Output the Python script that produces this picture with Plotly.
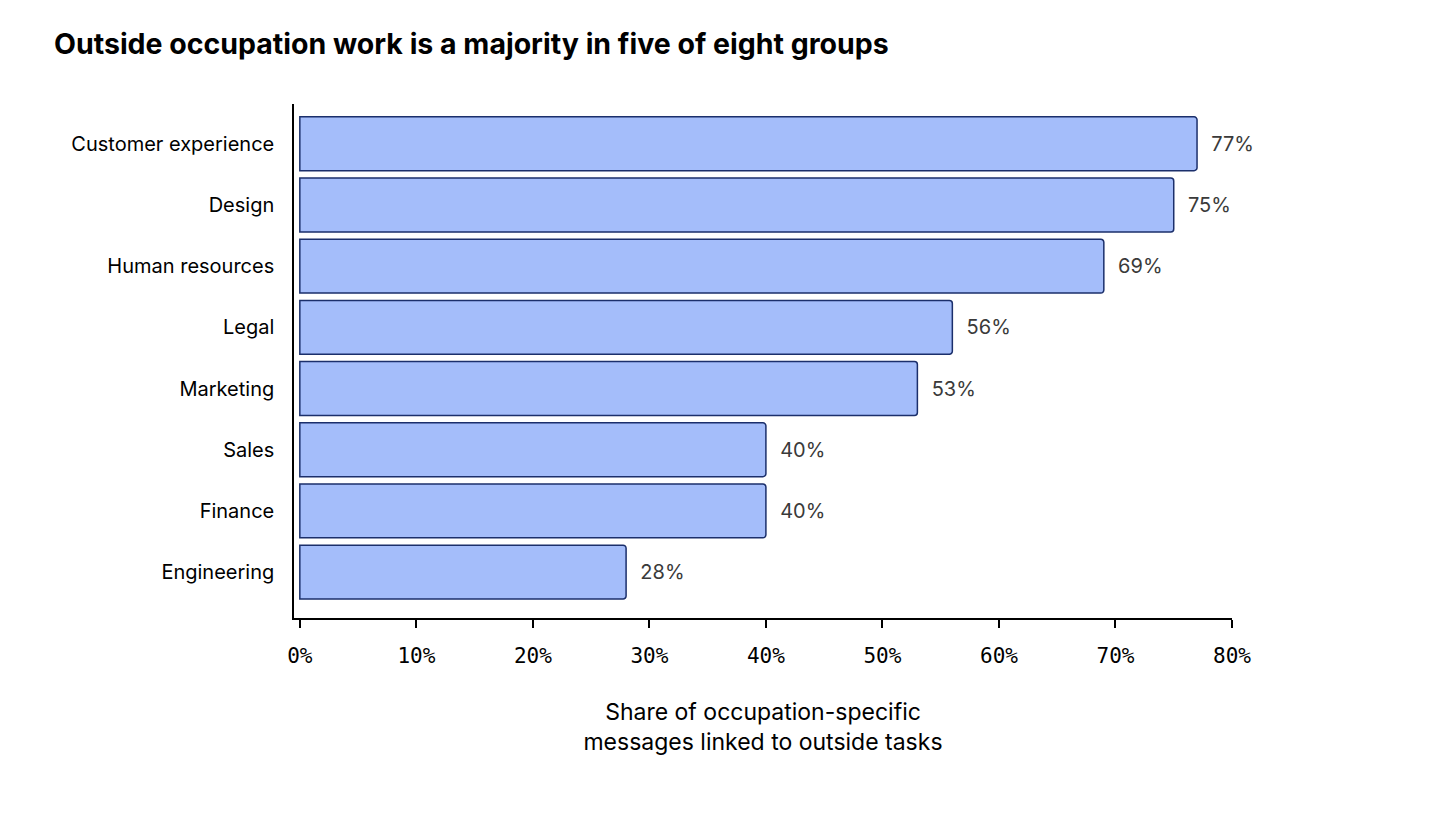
import plotly.graph_objects as go

# data (top to bottom)
groups = ["Customer experience", "Design", "Human resources", "Legal",
          "Marketing", "Sales", "Finance", "Engineering"]
shares = [77, 75, 69, 56, 53, 40, 40, 28]
tick_vals = [0, 10, 20, 30, 40, 50, 60, 70, 80]
tick_text = [f"{v}%" for v in tick_vals]

sans = "Inter, Lato, sans-serif"
mono = "DejaVu Sans Mono, monospace"

# plotly draws categories bottom-up, so reverse
ys = groups[::-1]
xs = shares[::-1]

fig = go.Figure()
fig.add_trace(go.Bar(
    x=xs, y=ys, orientation="h",
    marker=dict(color="#a4bdfa", line=dict(color="#1b2f6b", width=1.5), cornerradius=3),
    text=[f"  {v}%" for v in xs],
    textposition="outside",
    textfont=dict(family=sans, size=20, color="#3a3a3a"),
    cliponaxis=False,
    width=0.88,
    hoverinfo="skip",
))

fig.update_layout(
    width=1456, height=826,
    paper_bgcolor="white", plot_bgcolor="white",
    margin=dict(l=286, r=232, t=96, b=216),
    showlegend=False,
    title=dict(text="<b>Outside occupation work is a majority in five of eight groups</b>",
               x=46 / 1456, xanchor="left", y=1 - 36 / 826, yanchor="middle",
               font=dict(family=sans, size=28.5, color="black")),
)
fig.update_xaxes(
    range=[-0.5, 80], tickvals=tick_vals, ticktext=tick_text,
    tickfont=dict(family=mono, size=21, color="black"),
    ticks="outside", ticklen=8, tickcolor="black", tickwidth=1.5,
    showline=True, linecolor="black", linewidth=1.5,
    showgrid=False, zeroline=False, ticklabelstandoff=10,
    title=dict(text="Share of occupation-specific<br>messages linked to outside tasks",
               font=dict(family=sans, size=23, color="black"), standoff=37),
)
fig.update_yaxes(
    range=[-0.75, 7.65],
    tickfont=dict(family=sans, size=20, color="black"),
    showline=True, linecolor="black", linewidth=1.5,
    showgrid=False, zeroline=False, ticks="", ticklabelstandoff=14,
)

fig.write_html("out.html")
